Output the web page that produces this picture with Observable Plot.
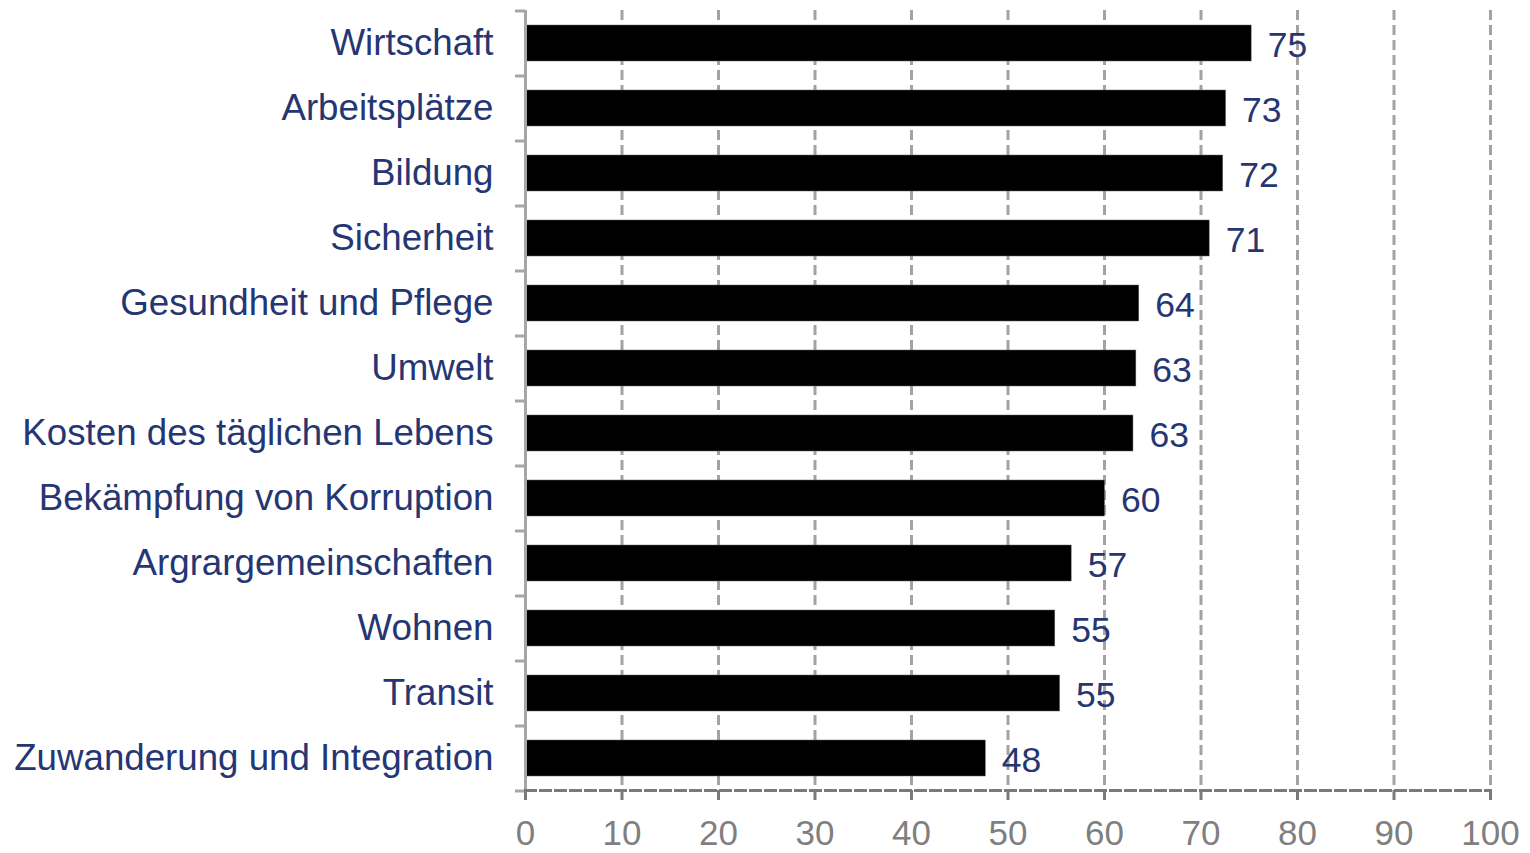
<!DOCTYPE html>
<html>
<head>
<meta charset="utf-8">
<script src="https://cdn.jsdelivr.net/npm/d3@7"></script>
<script src="https://cdn.jsdelivr.net/npm/@observablehq/plot@0.6"></script>
<style>
  html, body { margin: 0; padding: 0; background: #fff; }
  svg { display: block; }
</style>
</head>
<body>
<div id="chart"></div>
<script>
const categories = [
  "Wirtschaft",
  "Arbeitsplätze",
  "Bildung",
  "Sicherheit",
  "Gesundheit und Pflege",
  "Umwelt",
  "Kosten des täglichen Lebens",
  "Bekämpfung von Korruption",
  "Argrargemeinschaften",
  "Wohnen",
  "Transit",
  "Zuwanderung und Integration"
];
const values = [75.25, 72.6, 72.3, 70.9, 63.6, 63.3, 63.0, 60.05, 56.6, 54.9, 55.4, 47.7];
const xTicks = [0, 10, 20, 30, 40, 50, 60, 70, 80, 90, 100];

const data = categories.map((c, i) => ({category: c, value: values[i], label: String(Math.round(values[i]))}));

const navy = "#253673";
const font = "Liberation Sans, Arial, sans-serif";

const chart = Plot.plot({
  width: 1530,
  height: 853,
  marginLeft: 525,
  marginRight: 40,
  marginTop: 10,
  marginBottom: 63,
  style: {fontFamily: font, background: "#fff"},
  x: {domain: [0, 100], ticks: xTicks},
  y: {domain: categories, paddingInner: 0.45, paddingOuter: 0.225},
  marks: [
    Plot.ruleX(xTicks.slice(1), {stroke: "#a3a3a3", strokeWidth: 3, strokeDasharray: "10,5"}),
    Plot.barX(data, {x: "value", y: "category", fill: "#000", stroke: "#666", strokeWidth: 0.5}),
    Plot.text(data, {x: "value", y: "category", text: "label", textAnchor: "start", dx: 16, dy: 2, fill: navy, fontSize: 35.5}),
    Plot.ruleX([0], {stroke: "#a6a6a6", strokeWidth: 3}),
    Plot.axisY({tickSize: 0, tickPadding: 32, fontSize: 36.7, fill: navy, label: null}),
    Plot.axisY({tickSize: 10, text: null, dy: 32.5, stroke: "#a6a6a6", strokeWidth: 3, label: null}),
    Plot.axisY([categories[0]], {tickSize: 10, text: null, dy: -32.5, stroke: "#a6a6a6", strokeWidth: 3, label: null}),
    Plot.frame({anchor: "bottom", stroke: "#7a7a7a", strokeWidth: 3, strokeDasharray: "10,5"}),
    Plot.axisX({ticks: xTicks, tickSize: 10, tickPadding: 20, fontSize: 35, fill: "#7f7f7f", stroke: "#7a7a7a", strokeWidth: 3, label: null})
  ]
});

document.getElementById("chart").appendChild(chart);
</script>
</body>
</html>
